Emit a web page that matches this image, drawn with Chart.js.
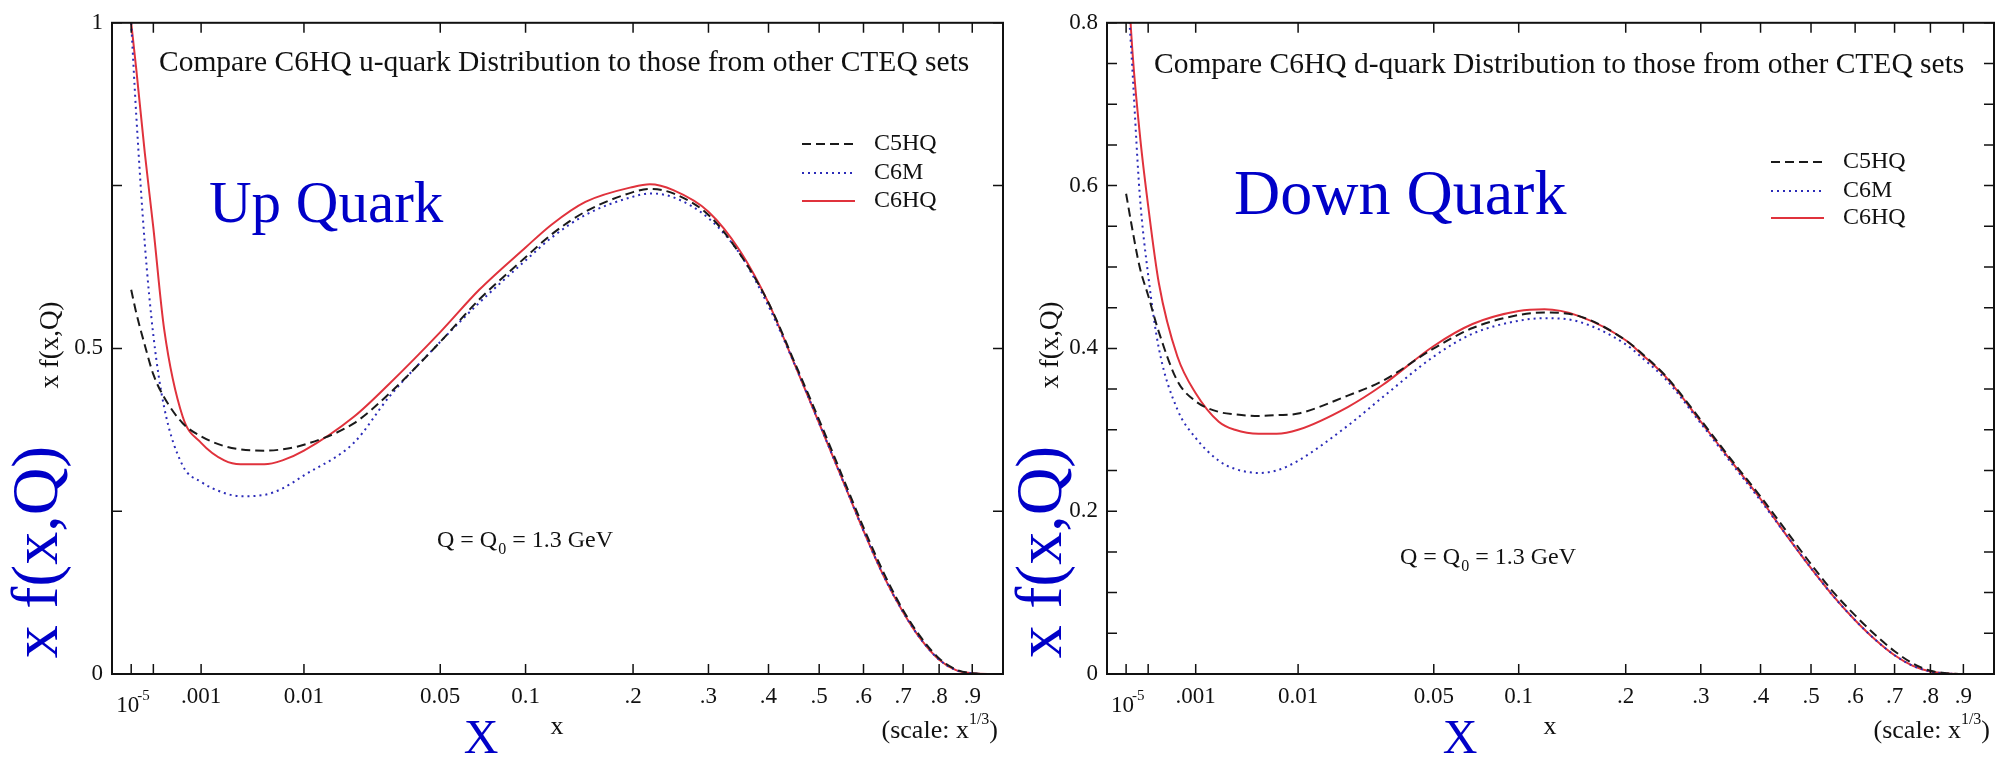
<!DOCTYPE html>
<html>
<head>
<meta charset="utf-8">
<script src="https://cdn.jsdelivr.net/npm/chart.js@4.4.1/dist/chart.umd.min.js"></script>
<style>
  html, body { margin: 0; padding: 0; background: #fff; width: 2007px; height: 757px; overflow: hidden; }
  canvas { position: absolute; top: 0; }
  #up { left: 0; }
  #down { left: 1000px; }
</style>
</head>
<body>
<canvas id="up" width="1040" height="757"></canvas>
<canvas id="down" width="1007" height="757"></canvas>
<script>
// x values shared by all curves (axis is drawn on an x^(1/3) scale)
const xValues = [1e-5, 2e-5, 5e-5, 1e-4, 2e-4, 5e-4, 0.001, 0.002, 0.003, 0.005, 0.007, 0.01, 0.02, 0.03, 0.05, 0.07,
  0.1, 0.12, 0.15, 0.2, 0.22, 0.25, 0.3, 0.35, 0.4, 0.45, 0.5, 0.55, 0.6, 0.65, 0.7, 0.75, 0.8, 0.85, 0.9, 0.95, 1.0];

// u-quark
const upC5HQ = [0.59, 0.555, 0.505, 0.46, 0.425, 0.385, 0.365, 0.35, 0.345, 0.343, 0.345, 0.352, 0.385, 0.43, 0.51, 0.575,
  0.64, 0.675, 0.71, 0.74, 0.745, 0.738, 0.705, 0.645, 0.57, 0.478, 0.39, 0.305, 0.225, 0.155, 0.098, 0.055, 0.024, 0.007, 0.001, 0, 0];
const upC6M = [1.0, 0.86, 0.66, 0.52, 0.41, 0.32, 0.295, 0.278, 0.273, 0.275, 0.285, 0.305, 0.355, 0.425, 0.51, 0.57,
  0.635, 0.67, 0.705, 0.733, 0.738, 0.732, 0.70, 0.645, 0.565, 0.475, 0.385, 0.30, 0.22, 0.15, 0.095, 0.052, 0.022, 0.006, 0.001, 0, 0];
const upC6HQ = [1.0, 0.93, 0.80, 0.685, 0.53, 0.395, 0.355, 0.328, 0.322, 0.322, 0.328, 0.343, 0.395, 0.445, 0.525, 0.59,
  0.655, 0.69, 0.725, 0.748, 0.752, 0.743, 0.71, 0.65, 0.57, 0.475, 0.385, 0.30, 0.22, 0.15, 0.095, 0.052, 0.022, 0.006, 0.001, 0, 0];

// d-quark
const downC5HQ = [0.59, 0.555, 0.50, 0.465, 0.42, 0.36, 0.335, 0.322, 0.319, 0.317, 0.318, 0.32, 0.342, 0.36, 0.40, 0.425,
  0.441, 0.444, 0.44, 0.41, 0.393, 0.366, 0.312, 0.262, 0.218, 0.175, 0.135, 0.10, 0.072, 0.048, 0.028, 0.013, 0.004, 0.001, 0, 0, 0];
const downC6M = [0.86, 0.77, 0.59, 0.49, 0.40, 0.325, 0.29, 0.262, 0.252, 0.247, 0.25, 0.262, 0.305, 0.34, 0.39, 0.418,
  0.434, 0.437, 0.433, 0.405, 0.388, 0.362, 0.308, 0.258, 0.213, 0.17, 0.13, 0.095, 0.066, 0.042, 0.023, 0.01, 0.003, 0.0005, 0, 0, 0];
const downC6HQ = [0.92, 0.79, 0.665, 0.575, 0.48, 0.39, 0.345, 0.31, 0.30, 0.295, 0.295, 0.30, 0.328, 0.355, 0.403, 0.43,
  0.446, 0.448, 0.44, 0.41, 0.392, 0.365, 0.31, 0.26, 0.215, 0.17, 0.13, 0.095, 0.066, 0.042, 0.023, 0.01, 0.003, 0.0005, 0, 0, 0];

const xTickValues = [1e-5, 1e-4, 0.001, 0.01, 0.05, 0.1, 0.2, 0.3, 0.4, 0.5, 0.6, 0.7, 0.8, 0.9];
const xTickLabels = ['', '', '.001', '0.01', '0.05', '0.1', '.2', '.3', '.4', '.5', '.6', '.7', '.8', '.9'];
const seriesNames = ['C5HQ', 'C6M', 'C6HQ'];

const FONT = '"Liberation Serif", "Times New Roman", serif';
const BLUE = '#0000c8';
const INK = '#111';

const styles = [
  { borderColor: '#1a1a1a', borderDash: [9, 5] },
  { borderColor: '#2b2bb8', borderDash: [2, 4] },
  { borderColor: '#e0323c', borderDash: [] }
];

const toPoints = vals => xValues.map((x, i) => ({ x: Math.cbrt(x), y: vals[i] }));

function textSub(ctx, x, y, size) {
  // "Q = Q0 = 1.3 GeV" with subscript 0
  ctx.font = size + 'px ' + FONT;
  ctx.fillText('Q = Q', x, y);
  x += ctx.measureText('Q = Q').width;
  ctx.font = Math.round(size * 0.65) + 'px ' + FONT;
  ctx.fillText('0', x + 1, y + 7);
  x += ctx.measureText('0').width + 1;
  ctx.font = size + 'px ' + FONT;
  ctx.fillText(' = 1.3 GeV', x, y);
}

function scaleLabel(ctx, right, y) {
  ctx.font = '16px ' + FONT;
  const wSup = ctx.measureText('1/3').width;
  ctx.font = '26px ' + FONT;
  const wP = ctx.measureText(')').width;
  const wMain = ctx.measureText('(scale: x').width;
  const x0 = right - wP - wSup - wMain;
  ctx.fillText('(scale: x', x0, y);
  ctx.fillText(')', right - wP, y);
  ctx.font = '16px ' + FONT;
  ctx.fillText('1/3', x0 + wMain, y - 14);
}

const decor = {
  id: 'decor',
  afterDraw(chart, args, o) {
    const ctx = chart.ctx, a = chart.chartArea;
    const xs = chart.scales.x, ys = chart.scales.y;
    ctx.save();
    // frame
    ctx.strokeStyle = INK;
    ctx.lineWidth = 2;
    ctx.strokeRect(a.left, a.top, a.right - a.left, a.bottom - a.top);
    // inward ticks
    ctx.lineWidth = 1.5;
    ctx.beginPath();
    xTickValues.forEach(v => {
      const px = xs.getPixelForValue(Math.cbrt(v));
      ctx.moveTo(px, a.bottom); ctx.lineTo(px, a.bottom - 10);
      ctx.moveTo(px, a.top); ctx.lineTo(px, a.top + 10);
    });
    ys.ticks.forEach(t => {
      const py = ys.getPixelForValue(t.value);
      ctx.moveTo(a.left, py); ctx.lineTo(a.left + 10, py);
      ctx.moveTo(a.right, py); ctx.lineTo(a.right - 10, py);
    });
    ctx.stroke();

    ctx.fillStyle = INK;
    ctx.textBaseline = 'alphabetic';
    ctx.textAlign = 'left';
    // 10^-5 tick label
    const p5 = xs.getPixelForValue(Math.cbrt(1e-5));
    ctx.font = '23px ' + FONT;
    ctx.fillText('10', p5 - 15, 712);
    ctx.font = '15px ' + FONT;
    ctx.fillText('-5', p5 + 6, 700);

    // title
    ctx.font = o.titleSize + 'px ' + FONT;
    ctx.fillText(o.title, o.titleX, o.titleY);

    // legend
    chart.data.datasets.forEach((ds, i) => {
      const y = o.legY[i];
      ctx.save();
      ctx.strokeStyle = ds.borderColor;
      ctx.lineWidth = 2;
      ctx.setLineDash(ds.borderDash);
      ctx.beginPath();
      ctx.moveTo(o.legX, y); ctx.lineTo(o.legX + 53, y);
      ctx.stroke();
      ctx.restore();
      ctx.font = '24px ' + FONT;
      ctx.textBaseline = 'middle';
      ctx.fillText(ds.label, o.legX + 72, y);
    });
    ctx.textBaseline = 'alphabetic';

    // Q = Q0 = 1.3 GeV
    textSub(ctx, o.qX, o.qY, 24);

    // x-axis title and scale note
    ctx.font = '26px ' + FONT;
    ctx.textAlign = 'center';
    ctx.fillText('x', o.xTitleX, 734);
    ctx.textAlign = 'left';
    scaleLabel(ctx, o.scaleRight, 738);

    // small y-axis title
    ctx.save();
    ctx.translate(o.yTitleX, 345);
    ctx.rotate(-Math.PI / 2);
    ctx.textAlign = 'center';
    ctx.textBaseline = 'middle';
    ctx.font = '27px ' + FONT;
    ctx.fillText('x f(x,Q)', 0, 0);
    ctx.restore();

    // big blue annotations
    ctx.fillStyle = BLUE;
    ctx.font = o.nameSize + 'px ' + FONT;
    ctx.fillText(o.name, o.nameX, o.nameY);
    ctx.save();
    ctx.translate(o.bigYX, 552);
    ctx.rotate(-Math.PI / 2);
    ctx.textAlign = 'center';
    ctx.textBaseline = 'middle';
    ctx.font = '66px ' + FONT;
    ctx.fillText('x f(x,Q)', 0, 0);
    ctx.restore();
    ctx.textAlign = 'center';
    ctx.font = '48px ' + FONT;
    ctx.fillText('X', o.bigXX, 753);
    ctx.restore();
  }
};

function makeChart(id, series, yMax, yStep, yLabelEvery, yWidth, padTop, padRight, deco) {
  return new Chart(document.getElementById(id), {
    type: 'line',
    data: {
      datasets: series.map((vals, i) => ({
        label: seriesNames[i],
        data: toPoints(vals),
        borderColor: styles[i].borderColor,
        borderDash: styles[i].borderDash,
        borderWidth: 2,
        pointRadius: 0,
        fill: false,
        cubicInterpolationMode: 'monotone'
      }))
    },
    options: {
      responsive: false,
      animation: false,
      devicePixelRatio: 1,
      layout: { padding: { left: 0, top: padTop, right: padRight, bottom: 0 } },
      plugins: { legend: { display: false }, tooltip: { enabled: false }, decor: deco },
      scales: {
        x: {
          type: 'linear', min: 0, max: 1,
          afterFit: s => { s.height = 83; },
          afterBuildTicks: s => { s.ticks = xTickValues.map(v => ({ value: Math.cbrt(v) })); },
          grid: { display: false, drawTicks: false },
          border: { display: false },
          ticks: {
            autoSkip: false, maxRotation: 0, padding: 9, color: INK,
            font: { family: FONT, size: 23 },
            callback: (v, i) => xTickLabels[i]
          }
        },
        y: {
          min: 0, max: yMax,
          afterFit: s => { s.width = yWidth; },
          grid: { display: false, drawTicks: false },
          border: { display: false },
          ticks: {
            stepSize: yStep, padding: 9, color: INK,
            font: { family: FONT, size: 23 },
            callback: v => {
              const k = v / yLabelEvery;
              if (Math.abs(k - Math.round(k)) > 1e-6) return '';
              const r = Math.round(k) * yLabelEvery;
              return r === 0 ? '0' : (Number.isInteger(r) ? String(r) : r.toFixed(1));
            }
          }
        }
      }
    },
    plugins: [decor]
  });
}

makeChart('up', [upC5HQ, upC6M, upC6HQ], 1, 0.25, 0.5, 112, 15, 37, {
  title: 'Compare C6HQ u-quark Distribution to those from other CTEQ sets', titleSize: 29.5, titleX: 159, titleY: 71,
  name: 'Up Quark', nameSize: 59, nameX: 209, nameY: 222,
  legX: 802, legY: [144, 173, 201],
  qX: 437, qY: 547,
  xTitleX: 557, scaleRight: 998, yTitleX: 51, bigYX: 40, bigXX: 481
});

makeChart('down', [downC5HQ, downC6M, downC6HQ], 0.8, 0.05, 0.2, 107, 18, 13, {
  title: 'Compare C6HQ d-quark Distribution to those from other CTEQ sets', titleSize: 29.5, titleX: 154, titleY: 73,
  name: 'Down Quark', nameSize: 64, nameX: 234, nameY: 214,
  legX: 771, legY: [162, 191, 218],
  qX: 400, qY: 564,
  xTitleX: 550, scaleRight: 990, yTitleX: 51, bigYX: 44, bigXX: 460
});
</script>
</body>
</html>
